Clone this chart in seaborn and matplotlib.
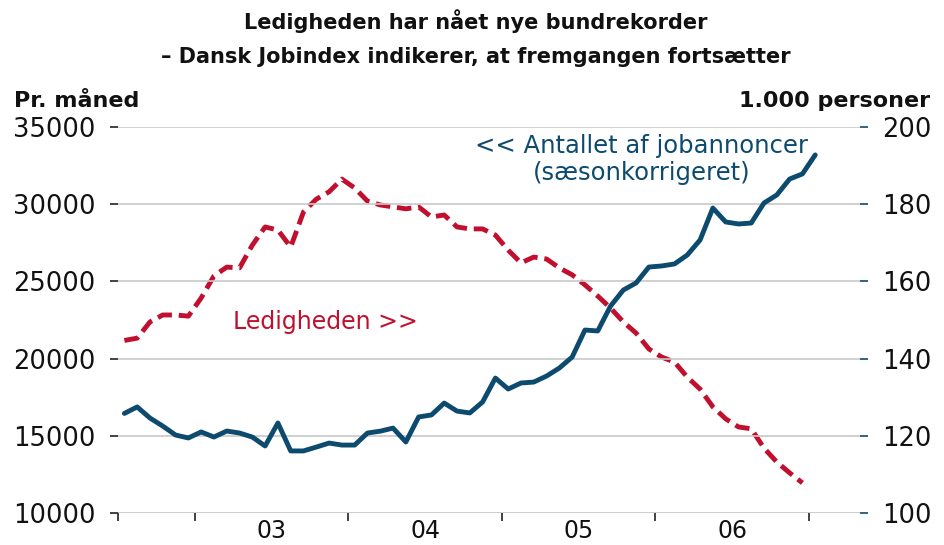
import matplotlib
matplotlib.use("Agg")
import matplotlib.pyplot as plt
import seaborn as sns
import pandas as pd
import numpy as np

# Monthly observations, July 2002 onwards
jobannoncer = [16450, 16870, 16150, 15630, 15050, 14860, 15250, 14920, 15310, 15180,
               14920, 14340, 15830, 14020, 14020, 14270, 14530, 14400, 14400, 15180,
               15300, 15500, 14600, 16220, 16350, 17120, 16600, 16480, 17190, 18740,
               18030, 18420, 18480, 18870, 19390, 20100, 21850, 21790, 23400, 24440,
               24900, 25930, 26000, 26130, 26710, 27680, 29750, 28850, 28720, 28780,
               30080, 30600, 31630, 31960, 33190]
ledigheden = [144.7, 145.3, 149.5, 151.3, 151.3, 151.0, 155.7, 161.4, 163.7, 163.5,
              169.4, 174.1, 173.3, 168.9, 178.0, 181.3, 183.2, 186.5, 184.2, 180.8,
              179.8, 179.3, 178.8, 179.3, 176.7, 177.2, 174.1, 173.6, 173.6, 172.0,
              168.1, 164.8, 166.3, 165.8, 163.5, 161.7, 159.1, 156.2, 153.1, 149.5,
              146.6, 142.5, 140.4, 139.1, 135.2, 132.1, 127.5, 124.4, 122.3, 121.8,
              116.8, 113.2, 110.4, 107.8]
year_labels = ["03", "04", "05", "06"]
left_ticks = [10000, 15000, 20000, 25000, 30000, 35000]
right_ticks = [100, 120, 140, 160, 180, 200]

title = "Ledigheden har nået nye bundrekorder\n– Dansk Jobindex indikerer, at fremgangen fortsætter"

BLUE = "#0c4a6e"
RED = "#c0102e"

sns.set_theme(style="white")
plt.rcParams["font.family"] = ["DejaVu Sans"]

df_job = pd.DataFrame({"m": np.arange(len(jobannoncer)), "v": jobannoncer})
df_led = pd.DataFrame({"m": np.arange(len(ledigheden)), "v": ledigheden})

fig = plt.figure(figsize=(9.44, 5.45), dpi=100)
ax = fig.add_axes([0.125, 0.0587, 0.786, 0.7083])
ax2 = ax.twinx()

ax.set_zorder(ax2.get_zorder() + 1)
ax.patch.set_visible(False)

sns.lineplot(data=df_job, x="m", y="v", ax=ax, color=BLUE, linewidth=3.5)
sns.lineplot(data=df_led, x="m", y="v", ax=ax2, color=RED, linewidth=3.5,
             linestyle=(0, (3.0, 1.4)))

ax.set_xlim(-0.5, 57.5)
ax.set_ylim(10000, 35000)
ax2.set_ylim(100, 200)
ax.set_yticks(left_ticks)
ax.set_yticklabels([str(t) for t in left_ticks])
ax2.set_yticks(right_ticks)
ax2.set_yticklabels([str(t) for t in right_ticks])

for a in (ax, ax2):
    a.set_xlabel("")
    a.set_ylabel("")
    for s in a.spines.values():
        s.set_visible(False)

ax.yaxis.grid(True, color="#c8c8c8", linewidth=1.2)
ax.xaxis.grid(False)
ax2.grid(False)
ax.axhline(10000, color="#e6e6e6", linewidth=1.2, zorder=0)

# x ticks at year boundaries, labels centered in each year
major = [-0.5, 5.5, 17.5, 29.5, 41.5, 53.5]
ax.set_xticks(major)
ax.set_xticklabels([""] * len(major))
ax.set_xticks([11.5, 23.5, 35.5, 47.5], minor=True)
ax.set_xticklabels(year_labels, minor=True)
ax.tick_params(axis="x", which="major", length=6, width=1.2, color="#222222", direction="out", bottom=True)
ax.tick_params(axis="x", which="minor", length=0, pad=4, labelsize=17, labelcolor="#111111", bottom=True)
ax.tick_params(axis="y", which="major", left=True, length=6, width=1.2, color="#222222",
               pad=10, labelsize=18.5, labelcolor="#111111")
ax2.tick_params(axis="y", which="major", right=True, length=6, width=1.2, color=BLUE,
                pad=10, labelsize=18.5, labelcolor="#111111")

fig.text(0.504, 0.983, title, ha="center", va="top", fontsize=15, fontweight="bold",
         color="#111111", linespacing=1.85)
fig.text(0.015, 0.815, "Pr. måned", ha="left", va="center", fontsize=16, fontweight="bold", color="#111111")
fig.text(0.985, 0.815, "1.000 personer", ha="right", va="center", fontsize=16, fontweight="bold", color="#111111")

ax.text(0.706, 0.915, "<< Antallet af jobannoncer\n(sæsonkorrigeret)", transform=ax.transAxes,
        ha="center", va="center", fontsize=17.5, color=BLUE, linespacing=1.15)
ax.text(0.28, 0.495, "Ledigheden >>", transform=ax.transAxes, ha="center", va="center",
        fontsize=17, color=RED)

fig.savefig("out.png", dpi=100)
